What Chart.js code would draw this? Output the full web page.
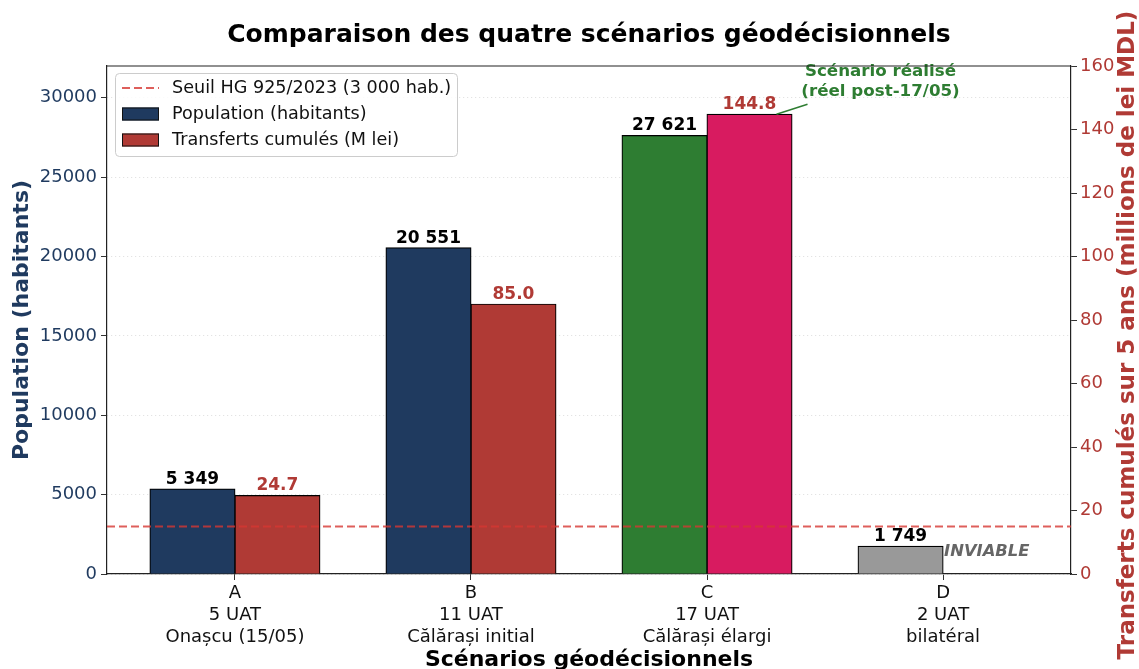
<!DOCTYPE html>
<html>
<head>
<meta charset="utf-8">
<script src="https://cdn.jsdelivr.net/npm/chart.js@4"></script>
<style>
    html, body { margin: 0; padding: 0; background: #fff; }
    #wrap { width: 1139px; height: 669px; }
</style>
</head>
<body>
<div id="wrap"><canvas id="chart"></canvas></div>
<script>
const scenarios = ['A', 'B', 'C', 'D'];
const uatCounts = ['5 UAT', '11 UAT', '17 UAT', '2 UAT'];
const scenarioNames = ['Onașcu (15/05)', 'Călărași initial', 'Călărași élargi', 'bilatéral'];
const population = [5349, 20551, 27621, 1749];
const transfers = [24.7, 85.0, 144.8, null];
const threshold = 3000;
const popTicks = [0, 5000, 10000, 15000, 20000, 25000, 30000];
const transferTicks = [0, 20, 40, 60, 80, 100, 120, 140, 160];

const NAVY = '#1f3a5f';
const RED = '#b03a35';
const popColors = [NAVY, NAVY, '#2e7d32', '#999999'];
const transferColors = [RED, RED, '#d81b60', RED];
const FONT = "'DejaVu Sans', sans-serif";

Chart.defaults.font.family = FONT;
Chart.defaults.color = '#111';

function fmtPop(v) {
    return String(v).replace(/\B(?=(\d{3})+(?!\d))/g, ' ');
}

const overlay = {
    id: 'overlay',
    afterDatasetsDraw(chart) {
        const ctx = chart.ctx;
        const area = chart.chartArea;
        const y = chart.scales.y;
        const x = chart.scales.x;

        // seuil
        const ty = y.getPixelForValue(threshold);
        ctx.save();
        ctx.strokeStyle = 'rgba(214,55,50,0.8)';
        ctx.lineWidth = 2;
        ctx.setLineDash([8, 4]);
        ctx.beginPath();
        ctx.moveTo(area.left, ty);
        ctx.lineTo(area.right, ty);
        ctx.stroke();
        ctx.restore();

        // valeurs
        ctx.save();
        ctx.font = 'bold 17px ' + FONT;
        ctx.textAlign = 'center';
        ctx.textBaseline = 'bottom';
        chart.getDatasetMeta(0).data.forEach((bar, i) => {
            ctx.fillStyle = '#000';
            ctx.fillText(fmtPop(population[i]), bar.x, bar.y - 1);
        });
        chart.getDatasetMeta(1).data.forEach((bar, i) => {
            if (transfers[i] === null) return;
            ctx.fillStyle = RED;
            ctx.fillText(transfers[i].toFixed(1), bar.x, bar.y - 1);
        });

        // INVIABLE
        ctx.font = 'italic bold 16.4px ' + FONT;
        ctx.fillStyle = '#666';
        ctx.textAlign = 'left';
        ctx.textBaseline = 'middle';
        ctx.fillText('INVIABLE', x.getPixelForValue(3) + 1, y.getPixelForValue(1400));

        // annotation scénario réalisé
        const cBar = chart.getDatasetMeta(1).data[2];
        const tx = cBar.x + 131;
        ctx.strokeStyle = '#2e7d32';
        ctx.lineWidth = 1.5;
        ctx.beginPath();
        ctx.moveTo(cBar.x + 27, cBar.y);
        ctx.lineTo(cBar.x + 58, cBar.y - 10);
        ctx.stroke();
        ctx.font = 'bold 16.7px ' + FONT;
        ctx.fillStyle = '#2e7d32';
        ctx.textAlign = 'center';
        ctx.fillText('Scénario réalisé', tx, area.top + 6);
        ctx.fillText('(réel post-17/05)', tx, area.top + 26);

        // cadre
        ctx.strokeStyle = '#222';
        ctx.lineWidth = 1.2;
        ctx.beginPath();
        ctx.moveTo(area.left, area.top);
        ctx.lineTo(area.right, area.top);
        ctx.stroke();

        // titre axe droit
        ctx.font = 'bold 23px ' + FONT;
        ctx.fillStyle = RED;
        ctx.translate(1128, 335);
        ctx.rotate(-Math.PI / 2);
        ctx.textAlign = 'center';
        ctx.fillText('Transferts cumulés sur 5 ans (millions de lei MDL)', 0, 0);
        ctx.restore();

        // légende
        const items = [
            {label: 'Seuil HG 925/2023 (3 000 hab.)', type: 'line'},
            {label: chart.data.datasets[0].label, color: NAVY},
            {label: chart.data.datasets[1].label, color: RED}
        ];
        const lx = area.left + 8, ly = area.top + 7;
        ctx.save();
        ctx.fillStyle = 'rgba(255,255,255,0.85)';
        ctx.strokeStyle = '#cccccc';
        ctx.lineWidth = 1;
        ctx.beginPath();
        ctx.roundRect(lx + 0.5, ly + 0.5, 342, 83, 4);
        ctx.fill();
        ctx.stroke();
        ctx.font = '17.6px ' + FONT;
        ctx.textBaseline = 'middle';
        items.forEach((it, k) => {
            const cy = ly + 15 + k * 26;
            if (it.type === 'line') {
                ctx.strokeStyle = 'rgba(214,55,50,0.8)';
                ctx.lineWidth = 2;
                ctx.setLineDash([8, 4]);
                ctx.beginPath();
                ctx.moveTo(lx + 7, cy);
                ctx.lineTo(lx + 44, cy);
                ctx.stroke();
                ctx.setLineDash([]);
            } else {
                ctx.fillStyle = it.color;
                ctx.fillRect(lx + 7, cy - 6.5, 37, 13);
                ctx.strokeStyle = '#111';
                ctx.lineWidth = 1;
                ctx.strokeRect(lx + 7.5, cy - 6, 36, 12);
            }
            ctx.fillStyle = '#111';
            ctx.fillText(it.label, lx + 57, cy);
        });
        ctx.restore();
    }
};

const ctx = document.getElementById('chart').getContext('2d');
new Chart(ctx, {
    type: 'bar',
    data: {
        datasets: [{
            label: 'Population (habitants)',
            data: population.map((v, i) => ({x: i, y: v})),
            backgroundColor: c => c.type === 'data' ? popColors[c.dataIndex] : NAVY,
            borderColor: '#000',
            borderWidth: 1.2,
            inflateAmount: 0.5,
            yAxisID: 'y'
        }, {
            label: 'Transferts cumulés (M lei)',
            data: transfers.map((v, i) => ({x: i, y: v})),
            backgroundColor: c => c.type === 'data' ? transferColors[c.dataIndex] : RED,
            borderColor: '#000',
            borderWidth: 1.2,
            inflateAmount: 0.5,
            yAxisID: 'y1'
        }]
    },
    options: {
        responsive: true,
        maintainAspectRatio: false,
        animation: false,
        layout: { padding: 0 },
        datasets: { bar: { barPercentage: 1, categoryPercentage: 0.72 } },
        plugins: {
            legend: { display: false },
            tooltip: { enabled: false },
            title: {
                display: true,
                fullSize: false,
                text: 'Comparaison des quatre scénarios géodécisionnels',
                color: '#000',
                font: { size: 25, weight: 'bold', lineHeight: 1.2 },
                padding: { top: 20, bottom: 16 }
            }
        },
        scales: {
            x: {
                type: 'linear',
                offset: false,
                min: -0.542,
                max: 3.542,
                afterBuildTicks: s => { s.ticks = scenarios.map((_, i) => ({value: i})); },
                afterFit: s => { s.height = 95; },
                ticks: {
                    color: '#111',
                    font: { size: 18 },
                    padding: 3,
                    maxRotation: 0,
                    autoSkip: false,
                    callback: v => [scenarios[v], uatCounts[v], scenarioNames[v]]
                },
                grid: { offset: false, drawOnChartArea: false, drawTicks: true, tickLength: 6, tickColor: '#333' },
                border: { color: '#222', width: 1.2 },
                title: {
                    display: true,
                    text: 'Scénarios géodécisionnels',
                    color: '#000',
                    font: { size: 22, weight: 'bold', lineHeight: 1 },
                    padding: { top: 0, bottom: -2 }
                }
            },
            y: {
                position: 'left',
                min: 0,
                max: 32000,
                afterBuildTicks: s => { s.ticks = popTicks.map(v => ({value: v})); },
                afterFit: s => { s.width = 107; },
                ticks: { color: NAVY, font: { size: 18 }, padding: 4, callback: v => String(v) },
                grid: { color: '#dddddd', lineWidth: 1, tickLength: 6, tickColor: '#333' },
                border: { color: '#222', width: 1.2, dash: [1, 3] },
                title: {
                    display: true,
                    text: 'Population (habitants)',
                    color: NAVY,
                    font: { size: 22, weight: 'bold', lineHeight: 1.2 },
                    padding: { top: 9, bottom: 0 }
                }
            },
            y1: {
                position: 'right',
                min: 0,
                max: 160,
                afterBuildTicks: s => { s.ticks = transferTicks.map(v => ({value: v})); },
                afterFit: s => { s.width = 68; },
                ticks: { color: RED, font: { size: 18 }, padding: 3, callback: v => String(v) },
                grid: { drawOnChartArea: false, tickLength: 6, tickColor: '#333' },
                border: { color: '#222', width: 1.2 }
            }
        }
    },
    plugins: [overlay]
});
</script>
</body>
</html>
